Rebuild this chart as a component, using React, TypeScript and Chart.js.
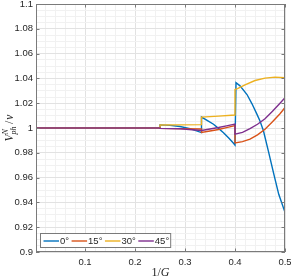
import React, { useEffect, useRef } from "react";
import { Chart, registerables } from "chart.js";

Chart.register(...registerables);

// ---- data ----
const SERIES_LABELS = ["0", "15", "30", "45"];
const SERIES_COLORS = ["#0072BD", "#D95319", "#EDB120", "#7E2F8E"];

const X_0 = [0.002, 0.25, 0.25, 0.27, 0.29, 0.31, 0.333, 0.333, 0.345, 0.357, 0.367, 0.377, 0.387, 0.397, 0.4, 0.402, 0.41, 0.424, 0.434, 0.444, 0.45, 0.457, 0.467, 0.4775, 0.4875, 0.5];
const Y_0 = [1, 1, 1.0025, 1.0021, 1.0012, 0.9995, 0.9963, 1.0088, 1.006, 1.003, 0.9997, 0.9962, 0.9921, 0.9877, 0.9862, 1.0365, 1.034, 1.027, 1.0195, 1.011, 1.0056, 0.9976, 0.981, 0.963, 0.9465, 0.932];

const X_15 = [0.002, 0.25, 0.25, 0.333, 0.333, 0.35, 0.367, 0.383, 0.4, 0.4, 0.415, 0.43, 0.445, 0.46, 0.475, 0.49, 0.5];
const Y_15 = [1, 1, 0.9997, 0.9992, 0.9965, 0.9976, 0.9988, 1.0003, 1.002, 0.988, 0.989, 0.991, 0.9945, 0.999, 1.005, 1.0115, 1.0165];

const X_30 = [0.002, 0.25, 0.25, 0.333, 0.333, 0.367, 0.4, 0.4, 0.405, 0.42, 0.44, 0.46, 0.48, 0.5];
const Y_30 = [1, 1, 1.0024, 1.0027, 1.0088, 1.0096, 1.0105, 1.031, 1.0318, 1.0348, 1.0383, 1.0402, 1.041, 1.0405];

const X_45 = [0.002, 0.25, 0.25, 0.29, 0.333, 0.35, 0.367, 0.383, 0.4, 0.4, 0.415, 0.43, 0.445, 0.46, 0.475, 0.49, 0.5];
const Y_45 = [1, 1, 0.9997, 0.9994, 0.998, 0.9992, 1.0004, 1.0017, 1.0032, 0.995, 0.9965, 0.9995, 1.003, 1.0075, 1.0135, 1.02, 1.0245];

const SERIES_X = [X_0, X_15, X_30, X_45];
const SERIES_Y = [Y_0, Y_15, Y_30, Y_45];

const X_MAJOR = [0.1, 0.2, 0.3, 0.4, 0.5];
const X_TICK_LABELS = ["0.1", "0.2", "0.3", "0.4", "0.5"];
const Y_MAJOR = [0.9, 0.92, 0.94, 0.96, 0.98, 1, 1.02, 1.04, 1.06, 1.08, 1.1];
const Y_TICK_LABELS = ["0.9", "0.92", "0.94", "0.96", "0.98", "1", "1.02", "1.04", "1.06", "1.08", "1.1"];
const X_MIN = 0.002;
const X_MAX = 0.5;
const Y_MIN = 0.9;
const Y_MAX = 1.1;
const X_MINOR_STEP = 0.02;
const Y_MINOR_STEP = 0.005;

// ---- styles ----
const W = 291;
const H = 278;
const TEXT = "#262626";
const AXIS = "#7a7a7a";
const GRID_MAJOR = "#e2e2e2";
const GRID_MINOR = "#f1f1f1";
const TICK_FONT = { family: "'Liberation Sans', Arial, sans-serif", size: 9.5 };

const near = (a: number, b: number) => Math.abs(a - b) < 1e-7;
const majorIndex = (list: number[], v: number) => list.findIndex((m) => near(m, v));

function minorTicks(min: number, max: number, step: number) {
  const out: { value: number }[] = [];
  const start = Math.ceil((min - 1e-9) / step);
  const end = Math.floor((max + 1e-9) / step);
  for (let i = start; i <= end; i++) out.push({ value: +(i * step).toFixed(6) });
  return out;
}

const matlabPlugin = {
  id: "matlabFrame",
  afterDatasetsDraw(chart: any) {
    const { ctx, chartArea: a, scales } = chart;
    const xs = scales.x;
    const ys = scales.y;
    ctx.save();
    ctx.strokeStyle = AXIS;
    ctx.lineWidth = 1;
    ctx.strokeRect(Math.round(a.left) + 0.5, Math.round(a.top) + 0.5, Math.round(a.right - a.left) - 1, Math.round(a.bottom - a.top) - 1);
    const L = 3.5;
    ctx.beginPath();
    X_MAJOR.forEach((v) => {
      const p = Math.round(xs.getPixelForValue(v)) + 0.5;
      ctx.moveTo(p, a.bottom);
      ctx.lineTo(p, a.bottom - L);
      ctx.moveTo(p, a.top);
      ctx.lineTo(p, a.top + L);
    });
    Y_MAJOR.forEach((v) => {
      const p = Math.round(ys.getPixelForValue(v)) + 0.5;
      ctx.moveTo(a.left, p);
      ctx.lineTo(a.left + L, p);
      ctx.moveTo(a.right, p);
      ctx.lineTo(a.right - L, p);
    });
    ctx.stroke();
    ctx.restore();
  },
  afterDraw(chart: any) {
    const { ctx, chartArea: a } = chart;
    ctx.save();
    ctx.fillStyle = TEXT;
    // x title: 1/G
    const serif = "'Liberation Serif', 'Times New Roman', serif";
    const fUp = `12px ${serif}`;
    const fIt = `italic 12px ${serif}`;
    ctx.textBaseline = "alphabetic";
    ctx.font = fUp;
    const w1 = ctx.measureText("1/").width;
    ctx.font = fIt;
    const wG = ctx.measureText("G").width;
    const cx = (a.left + a.right) / 2;
    let x = cx - (w1 + wG) / 2;
    ctx.font = fUp;
    ctx.fillText("1/", x, 276);
    ctx.font = fIt;
    ctx.fillText("G", x + w1, 276);

    // y title: V^N_ph / v
    const fYUp = `11.5px ${serif}`;
    const fYIt = `italic 11.5px ${serif}`;
    const fSmall = `italic 8px ${serif}`;
    ctx.translate(13, (a.top + a.bottom) / 2);
    ctx.rotate(-Math.PI / 2);
    ctx.font = fYIt;
    const wV = ctx.measureText("V").width;
    const wv = ctx.measureText("v").width;
    ctx.font = fSmall;
    const wN = ctx.measureText("N").width;
    const wph = ctx.measureText("ph").width;
    const wS = Math.max(wN, wph);
    ctx.font = fYUp;
    const wSl = ctx.measureText("/").width;
    const gap = 2.5;
    const total = wV + wS + gap + wSl + gap * 0.4 + wv;
    x = -total / 2;
    ctx.font = fYIt;
    ctx.fillText("V", x, 0);
    x += wV;
    ctx.font = fSmall;
    ctx.fillText("N", x, -5);
    ctx.fillText("ph", x, 3);
    x += wS + gap;
    ctx.font = fYUp;
    ctx.fillText("/", x, 0);
    x += wSl + gap * 0.4;
    ctx.font = fYIt;
    ctx.fillText("v", x, 0);
    ctx.restore();

    // legend
    ctx.save();
    const bx = a.left + 4.5;
    const by = 233.5;
    const bh = 14;
    const lineLen = 15.5;
    ctx.font = `9.5px ${TICK_FONT.family}`;
    ctx.textBaseline = "middle";
    const cy = by + bh / 2 + 0.5;
    let ex = bx + 3;
    const items: { x: number; label: string; color: string }[] = [];
    SERIES_LABELS.forEach((lab, i) => {
      const t = lab + "°";
      items.push({ x: ex, label: t, color: SERIES_COLORS[i] });
      ex += lineLen + 1 + ctx.measureText(t).width + 2.5;
    });
    const bw = ex - bx - 1;
    ctx.fillStyle = "#ffffff";
    ctx.fillRect(bx, by, bw, bh);
    ctx.strokeStyle = AXIS;
    ctx.lineWidth = 1;
    ctx.strokeRect(bx, by, bw, bh);
    items.forEach((it) => {
      ctx.strokeStyle = it.color;
      ctx.lineWidth = 1.4;
      ctx.beginPath();
      ctx.moveTo(it.x, cy);
      ctx.lineTo(it.x + lineLen, cy);
      ctx.stroke();
      ctx.fillStyle = TEXT;
      ctx.fillText(it.label, it.x + lineLen + 1, cy);
    });
    ctx.restore();
  },
};

export default function App() {
  const ref = useRef<HTMLCanvasElement | null>(null);

  useEffect(() => {
    document.body.style.margin = "0";
    const canvas = ref.current;
    if (!canvas) return;
    const datasets = SERIES_LABELS.map((lab, i) => ({
      label: lab + "°",
      data: SERIES_X[i].map((xv, j) => ({ x: xv, y: SERIES_Y[i][j] })),
      borderColor: SERIES_COLORS[i],
      backgroundColor: SERIES_COLORS[i],
      borderWidth: 1.4,
      pointRadius: 0,
      tension: 0,
      fill: false,
      order: SERIES_LABELS.length - i,
    }));
    const chart = new Chart(canvas, {
      type: "line",
      data: { datasets },
      plugins: [matlabPlugin],
      options: {
        animation: false,
        responsive: false,
        devicePixelRatio: 1,
        layout: { padding: { left: 0, right: 6, top: 4, bottom: 0 } },
        plugins: { legend: { display: false }, tooltip: { enabled: false } },
        scales: {
          x: {
            type: "linear",
            min: X_MIN,
            max: X_MAX,
            afterBuildTicks: (s: any) => {
              s.ticks = minorTicks(X_MIN, X_MAX, X_MINOR_STEP);
            },
            afterFit: (s: any) => {
              s.height = 26;
              s.paddingLeft = 0;
              s.paddingRight = 0;
            },
            border: { display: false },
            grid: {
              drawTicks: false,
              color: (c: any) => (c.tick && majorIndex(X_MAJOR, c.tick.value) >= 0 ? GRID_MAJOR : GRID_MINOR),
              lineWidth: 1,
            },
            ticks: {
              autoSkip: false,
              maxRotation: 0,
              padding: 5,
              color: TEXT,
              font: TICK_FONT,
              callback: (v: any) => {
                const k = majorIndex(X_MAJOR, Number(v));
                return k >= 0 ? X_TICK_LABELS[k] : "";
              },
            },
          },
          y: {
            type: "linear",
            min: Y_MIN,
            max: Y_MAX,
            afterBuildTicks: (s: any) => {
              s.ticks = minorTicks(Y_MIN, Y_MAX, Y_MINOR_STEP);
            },
            afterFit: (s: any) => {
              s.width = 36;
              s.paddingTop = 0;
              s.paddingBottom = 0;
            },
            border: { display: false },
            grid: {
              drawTicks: false,
              color: (c: any) => (c.tick && majorIndex(Y_MAJOR, c.tick.value) >= 0 ? GRID_MAJOR : GRID_MINOR),
              lineWidth: 1,
            },
            ticks: {
              autoSkip: false,
              padding: 3,
              color: TEXT,
              font: TICK_FONT,
              callback: (v: any) => {
                const k = majorIndex(Y_MAJOR, Number(v));
                return k >= 0 ? Y_TICK_LABELS[k] : "";
              },
            },
          },
        },
      },
    } as any);
    return () => chart.destroy();
  }, []);

  return (
    <div style={{ width: W, height: H, background: "#fff" }}>
      <canvas ref={ref} width={W} height={H} style={{ display: "block", width: W, height: H }} />
    </div>
  );
}
